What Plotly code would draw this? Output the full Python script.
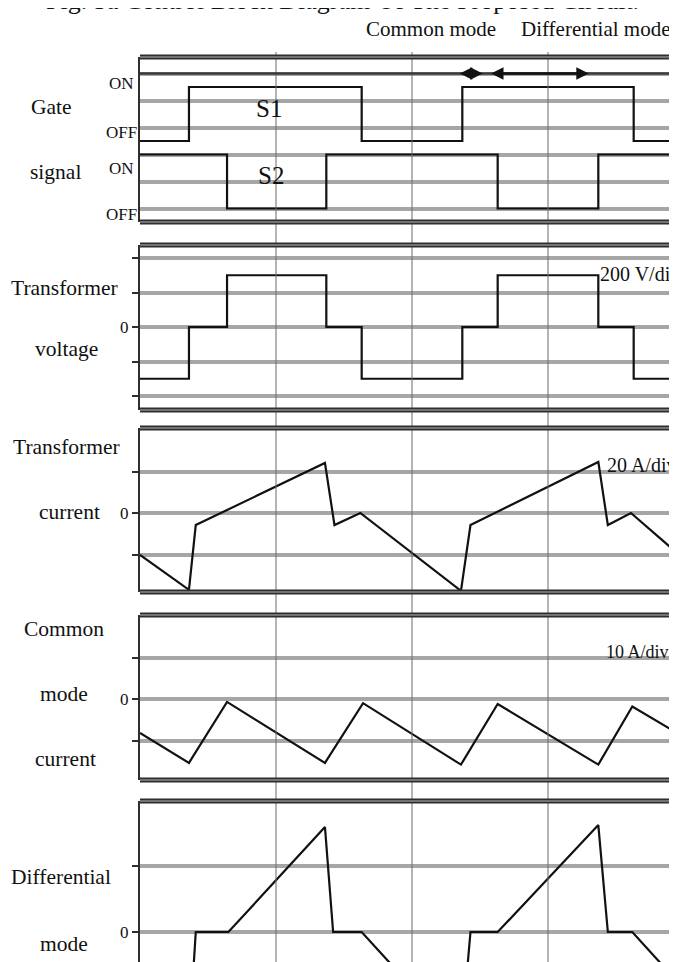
import plotly.graph_objects as go

# ---------------- data (time axis in oscilloscope divisions) ----------------
s1_t = [0.0, 0.36, 1.63, 2.37, 3.63, 4.0]
s1_state = [0, 1, 0, 1, 0, 0]
s2_t = [0.0, 0.64, 1.37, 2.63, 3.37, 4.0]
s2_state = [1, 0, 1, 0, 1, 1]

v_t = [0.0, 0.36, 0.64, 1.37, 1.63, 2.37, 2.63, 3.37, 3.63, 4.0]
v_tr = [-300, 0, 300, 0, -300, 0, 300, 0, -300, -300]          # V

it_t = [0.0, 0.36, 0.41, 1.36, 1.43, 1.62, 2.36, 2.43, 3.37, 3.44, 3.61, 3.95]
i_tr = [-20.2, -37.0, -5.8, 24.1, -5.8, 0.0, -37.5, -5.8, 24.6, -5.8, 0.0, -19.3]  # A

cm_t = [0.0, 0.36, 0.64, 1.36, 1.64, 2.36, 2.63, 3.37, 3.62, 3.95]
i_cm = [-8.2, -15.4, -0.7, -15.4, -1.0, -15.8, -1.2, -15.8, -1.8, -8.2]           # A

dm_t = [0.0, 0.36, 0.41, 0.65, 1.36, 1.42, 1.63, 2.36, 2.43, 2.63, 3.37, 3.44, 3.62, 3.95]
i_dm = [-16.8, -33.0, 0.0, 0.0, 31.8, 0.0, 0.0, -33.0, 0.0, 0.0, 32.4, 0.0, 0.0, -15.0]  # A

v_grid = [-400, -200, 0, 200, 400]
it_grid = [-20, 0, 20]
cm_grid = [-10, 0, 10]
dm_grid = [0, 20]
gate_grid = [0, 1, 2, 3, 4, 5]

scale_labels = ["200 V/div", "20 A/div", "10 A/div"]

# ---------------- layout helpers ----------------
W, H = 677, 962
OFF = 8                 # page offset of the figure inside the window
L = 140 - OFF           # left margin in figure pixels
DIV_PX = 136.0
FONT = "Liberation Serif, Times New Roman, serif"
INK = "#111111"
DARK = "#2e2e2e"
GRID = "#a6a6a6"
LABEL_SIZE = 21.5


def pxx(x):
    """window x pixel -> paper x"""
    return (x - OFF - L) / (W - L)


def pyy(y):
    """window y pixel -> paper y"""
    return 1 - (y - OFF) / H


def rng(top, bottom, zero_px, px_per_unit):
    return [-(bottom - zero_px) / px_per_unit, (zero_px - top) / px_per_unit]


# panel geometry in window pixels: top, bottom, zero pixel, pixels per unit
panels = {
    "y":  dict(top=57, bottom=222, zero=208.5, ppu=27.0),
    "y2": dict(top=245, bottom=410, zero=327, ppu=34.5 / 200),
    "y3": dict(top=428, bottom=592, zero=513, ppu=41.5 / 20),
    "y4": dict(top=615, bottom=780, zero=699, ppu=41.5 / 10),
    "y5": dict(top=801, bottom=H + OFF, zero=932, ppu=66.0 / 20),
}

fig = go.Figure()

line_style = dict(color=INK, width=2.2)
fig.add_trace(go.Scatter(x=s1_t, y=[2.5 + 2 * s for s in s1_state], mode="lines",
                         line=dict(shape="hv", **line_style), yaxis="y"))
fig.add_trace(go.Scatter(x=s2_t, y=[2 * s for s in s2_state], mode="lines",
                         line=dict(shape="hv", **line_style), yaxis="y"))
fig.add_trace(go.Scatter(x=v_t, y=v_tr, mode="lines",
                         line=dict(shape="hv", **line_style), yaxis="y2"))
fig.add_trace(go.Scatter(x=it_t, y=i_tr, mode="lines", line=line_style, yaxis="y3"))
fig.add_trace(go.Scatter(x=cm_t, y=i_cm, mode="lines", line=line_style, yaxis="y4"))
fig.add_trace(go.Scatter(x=dm_t, y=i_dm, mode="lines", line=line_style, yaxis="y5"))
fig.update_traces(showlegend=False, hoverinfo="skip")

grids = {"y": gate_grid, "y2": v_grid, "y3": it_grid, "y4": cm_grid, "y5": dm_grid}

layout_axes = {}
for key, p in panels.items():
    name = "yaxis" if key == "y" else "yaxis" + key[1:]
    gv = grids[key]
    ax = dict(
        domain=[max(0.0, pyy(p["bottom"])), pyy(p["top"])],
        range=rng(p["top"], p["bottom"], p["zero"], p["ppu"]),
        anchor="x",
        showline=True, linecolor=DARK, linewidth=2,
        showgrid=True, gridcolor=GRID, gridwidth=4,
        zeroline=False, fixedrange=True,
        tickmode="array", tickvals=gv,
        tickfont=dict(family=FONT, size=17, color=INK),
    )
    if key == "y":
        ax.update(ticks="", showticklabels=False)
    else:
        ax.update(ticks="outside", ticklen=6, tickwidth=2, tickcolor=DARK,
                  ticktext=["0" if v == 0 else "" for v in gv])
    layout_axes[name] = ax

x_max = (W - L) / DIV_PX

shapes = []
# vertical division lines
for xv in [1, 2, 3]:
    shapes.append(dict(type="line", xref="x", yref="paper", x0=xv, x1=xv,
                       y0=0, y1=pyy(52), line=dict(color="#6a6a6a", width=1),
                       layer="above"))
# darker ON reference line in gate panel
shapes.append(dict(type="line", xref="paper", yref="y", x0=0, x1=1, y0=5, y1=5,
                   line=dict(color="#3a3a3a", width=2.5), layer="above"))
# panel borders (double lines)
for key in panels:
    edges = [1] if key == "y5" else [0, 1]
    for e in edges:
        for col, wd in [(DARK, 5), ("#b8b8b8", 1.2)]:
            shapes.append(dict(type="line", xref="paper", yref=key + " domain",
                               x0=0, x1=1, y0=e, y1=e,
                               line=dict(color=col, width=wd), layer="above"))
# right-edge tick marks (window x 670..677)
xr0 = (670 - 140) / DIV_PX
xr1 = (677 - 140) / DIV_PX
for key in ["y2", "y3", "y4", "y5"]:
    for v in grids[key]:
        shapes.append(dict(type="line", xref="x", yref=key, x0=xr0, x1=xr1,
                           y0=v, y1=v, line=dict(color=DARK, width=3), layer="above"))

annotations = []


def txt(s, x, y, size, xanchor="center", yanchor="middle"):
    annotations.append(dict(text=s, x=pxx(x), y=pyy(y), xref="paper", yref="paper",
                            xanchor=xanchor, yanchor=yanchor, showarrow=False,
                            font=dict(family=FONT, size=size, color=INK)))


txt("Fig. 5a Control Block Diagram Of The Proposed Circuit.", 342, 17, 26, yanchor="bottom")
txt("Common mode", 431, 29, 21)
txt("Differential mode", 595, 29, 21)
txt("Gate", 51, 107, LABEL_SIZE)
txt("signal", 55, 172, LABEL_SIZE)
txt("ON", 121, 83, 17)
txt("OFF", 121, 132, 17)
txt("ON", 121, 168, 17)
txt("OFF", 121, 214, 17)
txt("S1", 269, 109, 25)
txt("S2", 271, 175, 25)
txt("Transformer", 64, 288, LABEL_SIZE)
txt("voltage", 66, 349, LABEL_SIZE)
txt("Transformer", 66, 447, LABEL_SIZE)
txt("current", 69, 512, LABEL_SIZE)
txt("Common", 64, 629, LABEL_SIZE)
txt("mode", 64, 694, LABEL_SIZE)
txt("current", 65, 759, LABEL_SIZE)
txt("Differential", 61, 877, LABEL_SIZE)
txt("mode", 64, 944, LABEL_SIZE)
txt(scale_labels[0], 598, 274, 20, xanchor="left")
txt(scale_labels[1], 605, 465, 20, xanchor="left")
txt(scale_labels[2], 604, 652, 18, xanchor="left")

# mode-interval arrows on the ON line
for xa, xb in [(2.34, 2.52), (2.57, 3.30)]:
    annotations.append(dict(x=xb, y=5, ax=xa, ay=5, xref="x", yref="y",
                            axref="x", ayref="y", text="", showarrow=True,
                            arrowhead=2, startarrowhead=2, arrowside="end+start",
                            arrowsize=1, startarrowsize=1, arrowwidth=2.5,
                            arrowcolor=INK, standoff=0, startstandoff=0))

fig.update_layout(
    width=W, height=H,
    margin=dict(l=L, r=0, t=0, b=0, pad=0),
    paper_bgcolor="white", plot_bgcolor="white",
    xaxis=dict(range=[0, x_max], showgrid=False, zeroline=False,
               showline=False, showticklabels=False, ticks="", fixedrange=True,
               anchor="y5"),
    shapes=shapes, annotations=annotations,
    showlegend=False,
    **layout_axes,
)

fig.write_html("out.html")
